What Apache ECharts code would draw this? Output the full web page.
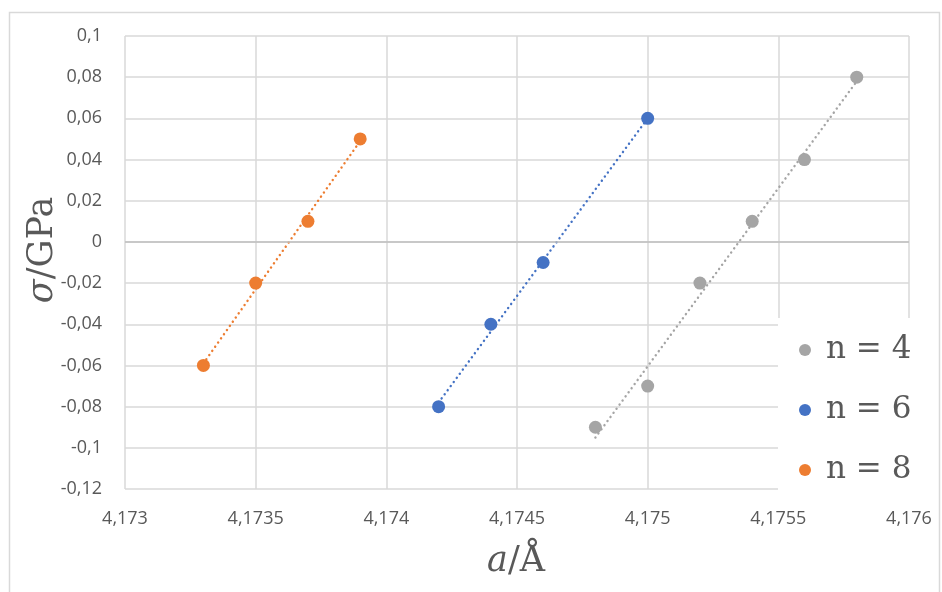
<!DOCTYPE html>
<html>
<head>
<meta charset="utf-8">
<script src="https://cdn.jsdelivr.net/npm/echarts@6/dist/echarts.min.js"></script>
<style>html,body{margin:0;padding:0;background:#fff}#c{width:942px;height:592px}</style>
</head>
<body>
<div id="c"></div>
<script>
// Data
var seriesNames = ['n = 4', 'n = 6', 'n = 8'];
var n4X = [4.1748, 4.1750, 4.1752, 4.1754, 4.1756, 4.1758];
var n4Y = [-0.09, -0.07, -0.02, 0.01, 0.04, 0.08];
var n6X = [4.1742, 4.1744, 4.1746, 4.1750];
var n6Y = [-0.08, -0.04, -0.01, 0.06];
var n8X = [4.1733, 4.1735, 4.1737, 4.1739];
var n8Y = [-0.06, -0.02, 0.01, 0.05];
// Dotted trendline endpoints
var n4TrendX = [4.1748, 4.1758];
var n4TrendY = [-0.095, 0.078];
var n6TrendX = [4.1742, 4.1750];
var n6TrendY = [-0.078, 0.060];
var n8TrendX = [4.1733, 4.1739];
var n8TrendY = [-0.059, 0.049];
// Axis ranges
var xMin = 4.173, xMax = 4.176, xStep = 0.0005;
var yMin = -0.12, yMax = 0.1, yStep = 0.02;

var colors = ['#a5a5a5', '#4472c4', '#ed7d31'];
function pairs(xs, ys) { return xs.map(function (x, i) { return [x, ys[i]]; }); }

var chart = echarts.init(document.getElementById('c'), null, {renderer: 'canvas'});
var gridColor = '#d9d9d9';
var labelFont = {fontFamily: 'Open Sans', fontSize: 18, color: '#595959'};

function trend(name, xs, ys, color) {
  return {
    name: name, type: 'line', data: pairs(xs, ys), symbol: 'none', silent: true,
    lineStyle: {color: color, width: 2.4, type: [0.1, 5], cap: 'round', opacity: 1}, z: 2
  };
}
function pts(name, xs, ys, color) {
  return {
    name: name, type: 'scatter', data: pairs(xs, ys), symbol: 'circle', symbolSize: 13,
    itemStyle: {color: color, opacity: 1}, z: 3
  };
}

chart.setOption({
  animation: false,
  color: colors,
  grid: {left: 125, top: 36, right: 33, bottom: 103, containLabel: false},
  graphic: [
    {type: 'rect', shape: {x: 9.5, y: 12.5, width: 930, height: 600}, style: {fill: 'none', stroke: '#d9d9d9', lineWidth: 1.5}, z: -1},
    {type: 'text', x: 43, y: 250, rotation: Math.PI / 2,
      style: {text: '{i|σ}{n|/GPa}', textAlign: 'center', textVerticalAlign: 'middle',
        rich: {i: {fontFamily: 'DejaVu Serif', fontStyle: 'italic', fontSize: 35, fill: '#595959'},
               n: {fontFamily: 'DejaVu Serif', fontSize: 35, fill: '#595959'}}}},
    {type: 'text', x: 516, y: 562,
      style: {text: '{i|a}{n|/Å}', textAlign: 'center', textVerticalAlign: 'middle',
        rich: {i: {fontFamily: 'DejaVu Serif', fontStyle: 'italic', fontSize: 35, fill: '#595959'},
               n: {fontFamily: 'DejaVu Serif', fontSize: 35, fill: '#595959'}}}}
  ],
  xAxis: {
    type: 'value', min: xMin, max: xMax, interval: xStep,
    axisLine: {show: false}, axisTick: {show: false},
    splitLine: {show: true, showMinLine: true, showMaxLine: true, lineStyle: {color: gridColor, width: 1.5}},
    axisLabel: Object.assign({margin: 21, formatter: function (v) { return (+v.toFixed(4)).toString().replace('.', ','); }}, labelFont)
  },
  yAxis: {
    type: 'value', min: yMin, max: yMax, interval: yStep,
    axisLine: {show: false}, axisTick: {show: false},
    splitLine: {show: true, showMinLine: true, showMaxLine: true, lineStyle: {color: gridColor, width: 1.5}},
    axisLabel: Object.assign({margin: 23, formatter: function (v) { var r = +v.toFixed(2); if (r === 0) r = 0; return r.toString().replace('.', ','); }}, labelFont)
  },
  legend: {
    data: seriesNames, orient: 'vertical', left: 778, top: 318,
    padding: [15, 12, 8, 21], backgroundColor: '#ffffff',
    icon: 'circle', itemWidth: 12, itemHeight: 12, itemGap: 26,
    itemStyle: {opacity: 1},
    textStyle: {fontFamily: 'DejaVu Serif', fontSize: 31, color: '#595959', lineHeight: 34, padding: [0, 0, 0, 10]}
  },
  series: [
    trend('t4', n4TrendX, n4TrendY, colors[0]),
    trend('t6', n6TrendX, n6TrendY, colors[1]),
    trend('t8', n8TrendX, n8TrendY, colors[2]),
    Object.assign(pts(seriesNames[0], n4X, n4Y, colors[0]), {
      markLine: {silent: true, symbol: 'none', label: {show: false},
        lineStyle: {color: '#bfbfbf', width: 1.5, type: 'solid'}, data: [{yAxis: 0}]}
    }),
    pts(seriesNames[1], n6X, n6Y, colors[1]),
    pts(seriesNames[2], n8X, n8Y, colors[2])
  ]
});
</script>
</body>
</html>
